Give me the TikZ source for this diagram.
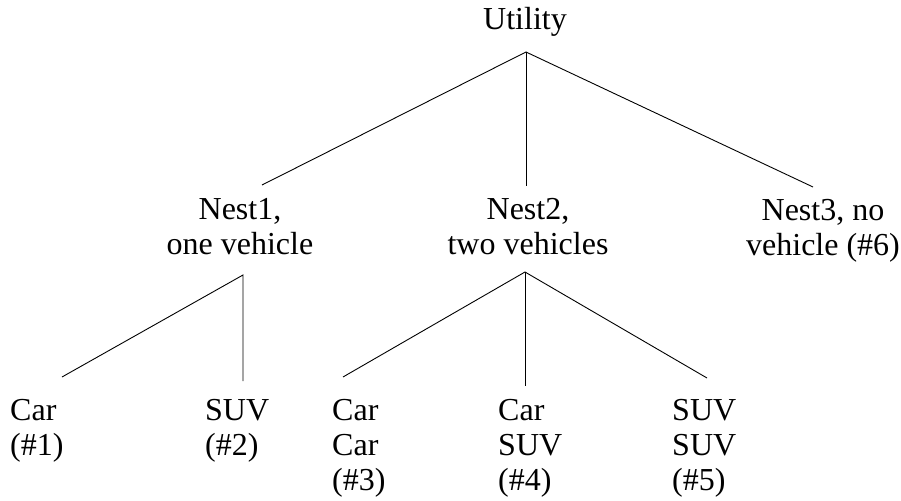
\documentclass[tikz,border=0pt]{standalone}
\usepackage{fontspec}
\setmainfont{Liberation Serif}
\begin{document}
\begin{tikzpicture}[x=1pt,y=-1pt,
  lbl/.style={inner sep=0pt,font=\fontsize{32}{35}\selectfont},
  ctr/.style={lbl,align=center,anchor=north},
  lft/.style={lbl,align=left,anchor=north west},
  edge/.style={draw=black,line width=0.9pt}]
\useasboundingbox (0,0) rectangle (901,500);
% text nodes
\node[ctr] (util) at (525,7) {Utility};
\node[ctr] (nest1) at (240,198) {Nest1,\\one vehicle};
\node[ctr] (nest2) at (528,198) {Nest2,\\two vehicles};
\node[ctr] (nest3) at (823,199) {Nest3, no\\vehicle (\#6)};
\node[lft] (a1) at (10,399) {Car\\(\#1)};
\node[lft] (a2) at (205,399) {SUV\\(\#2)};
\node[lft] (a3) at (332,399) {Car\\Car\\(\#3)};
\node[lft] (a4) at (498,399) {Car\\SUV\\(\#4)};
\node[lft] (a5) at (672,399) {SUV\\SUV\\(\#5)};
% junction points
\coordinate (uj) at (526,52);
\coordinate (n1in) at (262,185);
\coordinate (n2in) at (526,186);
\coordinate (n3in) at (813,187);
\coordinate (n1j) at (243,275);
\coordinate (a1in) at (62,377);
\coordinate (a2in) at (243,381);
\coordinate (n2j) at (525,272);
\coordinate (a3in) at (343,377);
\coordinate (a4in) at (525,386);
\coordinate (a5in) at (707,378);
% connectors
\draw[edge] (n1in) -- (uj) -- (n3in);
\draw[edge] (uj) -- (n2in);
\draw[edge] (a1in) -- (n1j) -- (a2in);
\draw[edge] (a3in) -- (n2j) -- (a5in);
\draw[edge] (n2j) -- (a4in);
\end{tikzpicture}
\end{document}
